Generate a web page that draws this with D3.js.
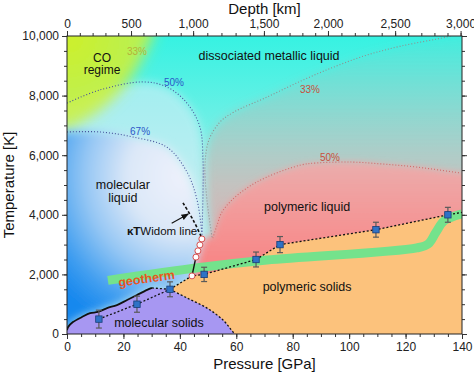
<!DOCTYPE html>
<html>
<head>
<meta charset="utf-8">
<script src="https://cdn.jsdelivr.net/npm/d3@7"></script>
<style>
  body { margin: 0; background: #fff; }
  svg { font-family: "Liberation Sans", Arial, Helvetica, sans-serif; }
</style>
</head>
<body>
<svg width="474" height="374"></svg>
<script>
// measured melting points: pressure [GPa], temperature [K], error [K]
var pressure = [11.3, 24.8, 36.5, 48.6, 67.0, 75.5, 109.5, 135.0];
var temperature = [500, 1000, 1500, 2000, 2500, 3000, 3500, 4000];
var tempErr = [300, 270, 250, 240, 250, 270, 250, 250];

// phase boundaries [P, T]
var meltingLine = [[0,130],[0.4,235],[2.1,400],[5.3,570],[8.2,700],[11,740],[14.2,870],[17.7,970],[21.3,1140],[24.8,1310],[28.4,1480],[30.1,1545]];
var solidBoundary = [[36.5,1500],[42.5,1210],[49.6,870],[55.3,470],[58.8,70],[59.5,0]];
var meltChainEnd = [140, 4080];
var widomCircles = [[47.8,3190],[47.1,2990],[46.4,2790],[45.7,2580],[44.3,1950]];
var widomLine = [[41.1,4400],[44.7,3830],[47.8,3220]];
var widomArrow = [[37.1,3715],[43.0,4027]];

// dissociation contours
var mol50 = [[0,7750],[11.7,8190],[26.9,8460],[35.4,8290],[42.5,7750],[47.1,6950],[48.2,5840],[48.2,4730],[47.8,3250]];
var mol67 = [[0,6780],[11.7,6780],[23.4,6610],[35.4,6270],[42.5,5440],[46.1,4500],[47.8,3390]];
var poly33 = [[51.4,3250],[49.6,4500],[48.9,5670],[50.3,6510],[54.2,7110],[59.2,7450],[70.9,7950],[82.9,8490],[94.6,8960],[106.3,9360],[118.3,9660],[134.7,9970],[140,10100]];
var poly50 = [[51.7,3220],[53.2,3660],[54.9,4090],[58.5,4500],[63.8,4900],[70.9,5270],[82.9,5670],[88.6,5740],[100.7,5770],[112.4,5700],[124.1,5600],[139.6,5400]];
var coBoundary = [[0,6850],[11.7,7520],[21.3,8420],[26.9,9300],[30.5,10000]];

// geotherm centre line
var geotherm = [[14.5,1800],[47.1,2230],[70.9,2480],[124,2890],[128,3020],[130.8,3420],[133.6,3790],[140,4030]];

// top axis: depth [km] vs pressure [GPa]
var depthKm = [0, 500, 1000, 1500, 2000, 2500, 3000];
var depthP = [0, 22.7, 44.7, 69.8, 92.5, 116.3, 139.5];

// labels: text, P, T (baseline), colour, size
var labels = [
  ["CO", 12.4, 9130, "#111", 12],
  ["regime", 12.4, 8725, "#111", 12],
  ["33%", 24.8, 9360, "#b5b33a", 10],
  ["50%", 37.9, 8320, "#2d55c8", 10],
  ["67%", 25.9, 6680, "#2d55c8", 10],
  ["dissociated metallic liquid", 71.6, 9195, "#111", 12.5],
  ["33%", 86.1, 8090, "#c8503c", 10],
  ["50%", 93.2, 5805, "#c8503c", 10],
  ["molecular", 19.8, 4866, "#111", 12.5],
  ["liquid", 19.8, 4430, "#111", 12.5],
  ["polymeric liquid", 85.1, 4128, "#111", 12.5],
  ["polymeric solids", 85.1, 1443, "#111", 12.5],
  ["molecular solids", 32.6, 235, "#111", 12.5]
];

var svg = d3.select("svg");
var x = d3.scaleLinear().domain([0, 140]).range([67, 462]);
var y = d3.scaleLinear().domain([0, 10000]).range([334, 36]);
var depth = d3.scaleLinear().domain(depthKm).range(depthP.map(x));

var defs = svg.append("defs");
function blur(id, s) {
  defs.append("filter").attr("id", id).attr("filterUnits", "userSpaceOnUse")
    .attr("x", -80).attr("y", -80).attr("width", 640).attr("height", 540)
    .append("feGaussianBlur").attr("stdDeviation", s);
}
blur("b1", 1.2); blur("b3", 3); blur("b5", 5); blur("b7", 7);

defs.append("clipPath").attr("id", "plot").append("rect")
  .attr("x", x(0)).attr("y", y(10000))
  .attr("width", x(140) - x(0)).attr("height", y(0) - y(10000));

function addStops(g, stops) {
  stops.forEach(function(s) {
    g.append("stop").attr("offset", s[0]).attr("stop-color", s[1])
      .attr("stop-opacity", s[2] == null ? 1 : s[2]);
  });
}
var g;
g = defs.append("linearGradient").attr("id", "gBase").attr("gradientUnits", "userSpaceOnUse")
  .attr("x1", 0).attr("y1", y(10000)).attr("x2", 0).attr("y2", y(0));
addStops(g, [[0, "#36f2e2"], [0.5, "#96eee8"], [1, "#b6e8f0"]]);

g = defs.append("linearGradient").attr("id", "gP33").attr("gradientUnits", "userSpaceOnUse")
  .attr("x1", 0).attr("y1", y(10000)).attr("x2", 0).attr("y2", y(3200));
addStops(g, [[0, "#e89a9a", 0.06], [0.5, "#f09a9a", 0.35], [1, "#f59090", 0.65]]);

g = defs.append("linearGradient").attr("id", "gP50").attr("gradientUnits", "userSpaceOnUse")
  .attr("x1", 0).attr("y1", y(5800)).attr("x2", 0).attr("y2", y(2000));
addStops(g, [[0, "#f7a6a6", 0.8], [1, "#f88282", 1]]);

g = defs.append("radialGradient").attr("id", "gMol").attr("gradientUnits", "userSpaceOnUse")
  .attr("cx", x(42)).attr("cy", y(5300)).attr("r", 165);
addStops(g, [[0, "#eef1fb"], [0.35, "#dce8f8"], [0.6, "#98c8f4"], [0.85, "#3c9cf0"], [1, "#1888ee"]]);

g = defs.append("radialGradient").attr("id", "gCO").attr("gradientUnits", "userSpaceOnUse")
  .attr("cx", x(0)).attr("cy", y(10000)).attr("r", 120);
addStops(g, [[0, "#d6f01e", 0.95], [0.7, "#ccf040", 0.85], [1, "#b8ee70", 0.6]]);

var line = d3.line().x(function(d) { return x(d[0]); }).y(function(d) { return y(d[1]); });
var smooth = d3.line().x(function(d) { return x(d[0]); }).y(function(d) { return y(d[1]); })
  .curve(d3.curveCatmullRom.alpha(0.5));

// join several pieces into one closed path
function joined(parts) {
  return parts.map(function(p, i) {
    var s = (p[1] ? smooth : line)(p[0]).replace(/Z$/, "");
    return i === 0 ? s : "L" + s.slice(1);
  }).join("") + "Z";
}
function rev(a) { return a.slice().reverse(); }

var pts = pressure.map(function(p, i) { return [p, temperature[i]]; });
var meltChain = [pts[2], widomCircles[4]].concat(pts.slice(3)).concat([meltChainEnd]);

var bg = svg.append("g").attr("clip-path", "url(#plot)");
bg.append("rect").attr("x", x(-5)).attr("y", y(10500))
  .attr("width", x(145) - x(-5)).attr("height", y(-500) - y(10500)).attr("fill", "url(#gBase)");

// polymer (pink) regions
bg.append("path").attr("filter", "url(#b5)").attr("fill", "url(#gP33)")
  .attr("d", joined([[poly33, true], [[[150, 10600], [150, -500], [44.3, -500]], false], [rev(widomCircles), false]]));
bg.append("path").attr("filter", "url(#b3)").attr("fill", "url(#gP50)")
  .attr("d", joined([[poly50, true], [[[150, 5400], [150, -500], [44.3, -500]], false], [rev(widomCircles), false]]));

// molecular region, outer (50%) and inner (67%)
bg.append("path").attr("filter", "url(#b5)").attr("fill", "#e2eefa").attr("opacity", 0.55)
  .attr("d", joined([[[[-10, 7750]], false], [mol50, true], [widomCircles, false], [[pts[2]], false], [rev(meltingLine), false], [[[-10, 0]], false]]));
bg.append("path").attr("filter", "url(#b7)").attr("fill", "url(#gCO)")
  .attr("d", joined([[[[-10, 11000], [-10, 6850]], false], [coBoundary, true], [[[32, 11000]], false]]));
bg.append("path").attr("filter", "url(#b5)").attr("fill", "url(#gMol)")
  .attr("d", joined([[[[-10, 6780]], false], [mol67, true], [widomCircles, false], [[pts[2]], false], [rev(meltingLine), false], [[[-10, 0]], false]]));

// narrow overlap strip
bg.append("path").attr("filter", "url(#b1)").attr("fill", "#c4b4d4").attr("opacity", 0.6)
  .attr("d", joined([[mol50.slice(6), true], [rev(poly33.slice(0, 3)), true]]));

// solids
bg.append("path").attr("fill", "#fcc27c")
  .attr("d", joined([[meltChain, false], [[[140, 0]], false], [rev(solidBoundary), true]]));
bg.append("path").attr("fill", "#a797f2")
  .attr("d", joined([[[[0, 0]], false], [meltingLine, true], [solidBoundary, true]]));

// geotherm band
bg.append("path").attr("d", smooth(geotherm)).attr("fill", "none")
  .attr("stroke", "#74e28c").attr("stroke-width", 9).attr("stroke-linejoin", "round");

// dotted contours
function dotted(data, color) {
  bg.append("path").attr("d", smooth(data)).attr("fill", "none").attr("stroke", color)
    .attr("stroke-width", 1.1).attr("stroke-dasharray", "1,2");
}
dotted(mol50, "#45509a");
dotted(mol67, "#45509a");
dotted(poly33, "#8f8f8f");
dotted(poly50, "#d26a6a");

// black boundaries
bg.append("path").attr("d", smooth(meltingLine)).attr("fill", "none").attr("stroke", "#111").attr("stroke-width", 1.8);
[[meltingLine[meltingLine.length - 1], pts[2]], pts.slice(0, 3), meltChain].forEach(function(d) {
  bg.append("path").attr("d", line(d)).attr("fill", "none").attr("stroke", "#111")
    .attr("stroke-width", 1.3).attr("stroke-dasharray", "2,2");
});
bg.append("path").attr("d", smooth(solidBoundary)).attr("fill", "none").attr("stroke", "#111")
  .attr("stroke-width", 1.3).attr("stroke-dasharray", "2,2");
bg.append("path").attr("d", smooth(widomLine)).attr("fill", "none").attr("stroke", "#111")
  .attr("stroke-width", 1.6).attr("stroke-dasharray", "3,2");
bg.append("path").attr("d", line(widomCircles)).attr("fill", "none").attr("stroke", "#111").attr("stroke-width", 1.4);
bg.selectAll("circle.w").data(widomCircles).enter().append("circle").attr("class", "w")
  .attr("cx", function(d) { return x(d[0]); }).attr("cy", function(d) { return y(d[1]); })
  .attr("r", 3).attr("fill", "#fff").attr("stroke", "#d85050").attr("stroke-width", 1);

// arrow
defs.append("marker").attr("id", "ah").attr("viewBox", "0 0 10 10").attr("refX", 9).attr("refY", 5)
  .attr("markerWidth", 7).attr("markerHeight", 7).attr("orient", "auto")
  .append("path").attr("d", "M0,1L10,5L0,9Z").attr("fill", "#111");
svg.append("path").attr("d", line(widomArrow)).attr("stroke", "#111").attr("stroke-width", 1.1)
  .attr("marker-end", "url(#ah)");

// error bars + squares
var eb = svg.append("g");
pts.forEach(function(d, i) {
  var cx = x(d[0]);
  eb.append("line").attr("x1", cx).attr("x2", cx).attr("y1", y(d[1] - tempErr[i])).attr("y2", y(d[1] + tempErr[i]))
    .attr("stroke", "#5a5a5a").attr("stroke-width", 1.2);
  [d[1] - tempErr[i], d[1] + tempErr[i]].forEach(function(t) {
    eb.append("line").attr("x1", cx - 3).attr("x2", cx + 3).attr("y1", y(t)).attr("y2", y(t))
      .attr("stroke", "#5a5a5a").attr("stroke-width", 1.2);
  });
  eb.append("rect").attr("x", cx - 3.2).attr("y", y(d[1]) - 3.2).attr("width", 6.4).attr("height", 6.4)
    .attr("fill", "#2f72c6").attr("stroke", "#183c78").attr("stroke-width", 0.8);
});

// region labels
svg.append("g").selectAll("text").data(labels).enter().append("text")
  .attr("x", function(d) { return x(d[1]); }).attr("y", function(d) { return y(d[2]); })
  .attr("text-anchor", "middle").attr("fill", function(d) { return d[3]; })
  .style("font-size", function(d) { return d[4] + "px"; })
  .text(function(d) { return d[0]; });

var wt = svg.append("text").attr("x", x(33.7)).attr("y", y(3322)).attr("text-anchor", "middle")
  .style("font-size", "11.5px").attr("fill", "#111");
wt.append("tspan").style("font-weight", "bold").text("κT");
wt.append("tspan").text("Widom line");

svg.append("text").attr("transform", "translate(" + x(28.4) + "," + y(1720) + ") rotate(-8)")
  .attr("text-anchor", "middle").style("font-size", "12.5px").style("font-weight", "bold")
  .attr("fill", "#e8561e").text("geotherm");

// axes
function axis(a, tr, major, minor, fmt) {
  var ga = svg.append("g").attr("transform", tr);
  ga.call(a.tickValues(minor).tickSize(3).tickFormat(""));
  var gb = svg.append("g").attr("transform", tr);
  gb.call(a.tickValues(major).tickSize(5).tickFormat(fmt));
  [ga, gb].forEach(function(s) {
    s.select(".domain").remove();
    s.selectAll("line").attr("stroke", "#333");
    s.selectAll("text").style("font-size", "12px").attr("fill", "#222");
  });
  return gb;
}
var fmtC = d3.format(",");
axis(d3.axisBottom(x), "translate(0," + y(0) + ")", d3.range(0, 141, 20), d3.range(0, 141, 5), d3.format("d"));
axis(d3.axisLeft(y), "translate(" + x(0) + ",0)", d3.range(0, 10001, 2000), d3.range(0, 10001, 500), fmtC);
axis(d3.axisRight(y), "translate(" + x(140) + ",0)", d3.range(0, 10001, 2000), d3.range(0, 10001, 500), function() { return ""; });
axis(d3.axisTop(depth), "translate(0," + y(10000) + ")", d3.range(0, 3001, 500), d3.range(0, 3001, 100), fmtC);

svg.append("rect").attr("x", x(0)).attr("y", y(10000)).attr("width", x(140) - x(0)).attr("height", y(0) - y(10000))
  .attr("fill", "none").attr("stroke", "#222").attr("stroke-width", 1);

svg.append("text").attr("x", (x(0) + x(140)) / 2).attr("y", 369).attr("text-anchor", "middle")
  .style("font-size", "15px").attr("fill", "#111").text("Pressure [GPa]");
svg.append("text").attr("x", (x(0) + x(140)) / 2).attr("y", 14).attr("text-anchor", "middle")
  .style("font-size", "15px").attr("fill", "#111").text("Depth [km]");
svg.append("text").attr("transform", "translate(14," + (y(0) + y(10000)) / 2 + ") rotate(-90)")
  .attr("text-anchor", "middle").style("font-size", "15px").attr("fill", "#111").text("Temperature [K]");
</script>
</body>
</html>
